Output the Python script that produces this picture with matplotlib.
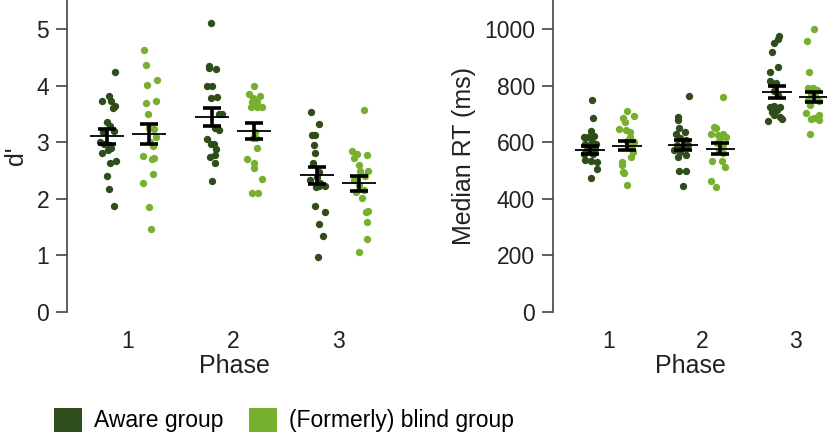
import numpy as np
import matplotlib.pyplot as plt
from matplotlib.patches import Patch

plt.rcParams['font.family'] = ['Liberation Sans', 'DejaVu Sans']

phases = [1, 2, 3]
groups = ['Aware group', '(Formerly) blind group']
colors = ['#2f4d1a', '#77b02f']

# d' per participant (value, horizontal jitter in category units)
dprime_aware = [
    [4.25, 3.82, 3.73, 3.73, 3.65, 3.61, 3.37, 3.29, 3.18, 3.20, 3.01, 2.98, 2.95, 2.90, 2.87, 2.81, 2.64, 2.67, 2.40, 2.17, 1.88],
    [5.12, 4.35, 4.31, 4.30, 4.00, 4.00, 3.79, 3.80, 3.50, 3.50, 3.25, 3.22, 3.06, 2.98, 2.98, 2.89, 2.74, 2.77, 2.63, 2.31],
    [3.53, 3.33, 3.13, 3.14, 2.95, 2.81, 2.64, 2.48, 2.39, 2.34, 2.28, 2.23, 2.23, 2.22, 1.88, 1.77, 1.56, 1.35, 0.97],
]
dprime_aware_jit = [
    [0.08, 0.02, -0.05, 0.04, 0.08, 0.06, 0.00, 0.03, -0.04, 0.07, -0.07, -0.03, 0.02, 0.04, 0.01, -0.05, 0.03, 0.09, 0.00, 0.02, 0.07],
    [-0.01, -0.03, -0.03, 0.04, -0.05, 0.00, -0.01, 0.05, 0.07, 0.09, 0.03, 0.07, -0.05, -0.01, 0.02, 0.04, -0.02, 0.03, 0.03, 0.00],
    [-0.06, 0.02, -0.05, -0.02, -0.03, -0.02, -0.04, 0.02, 0.00, -0.07, 0.03, 0.07, 0.02, -0.01, -0.02, 0.07, 0.02, 0.05, 0.01],
]
dprime_blind = [
    [4.63, 4.37, 4.02, 4.11, 3.69, 3.73, 3.50, 3.26, 3.23, 3.10, 3.01, 2.93, 2.76, 2.73, 2.70, 2.45, 2.28, 1.85, 1.46],
    [4.00, 3.86, 3.83, 3.79, 3.71, 3.72, 3.63, 3.63, 3.63, 3.19, 3.07, 3.07, 2.90, 2.70, 2.63, 2.54, 2.36, 2.10, 2.10],
    [3.58, 2.85, 2.79, 2.73, 2.77, 2.60, 2.50, 2.50, 2.40, 2.34, 2.25, 2.16, 2.12, 2.01, 1.77, 1.79, 1.59, 1.29, 1.07],
]
dprime_blind_jit = [
    [-0.05, -0.03, -0.02, 0.08, -0.03, 0.07, -0.01, 0.00, 0.05, 0.07, 0.01, 0.04, -0.06, 0.05, 0.03, 0.04, -0.06, 0.00, 0.02],
    [0.00, -0.05, 0.06, -0.01, -0.02, 0.03, -0.03, 0.07, 0.03, 0.01, -0.01, 0.02, 0.03, -0.07, 0.00, 0.00, 0.07, -0.02, 0.04],
    [0.04, -0.07, -0.02, -0.05, 0.07, 0.00, 0.01, 0.08, 0.05, -0.05, 0.00, 0.04, -0.03, 0.03, 0.06, 0.08, 0.07, 0.07, 0.00],
]
dprime_mean = [[3.11, 3.45, 2.42], [3.145, 3.20, 2.28]]
dprime_se = [[0.135, 0.155, 0.15], [0.175, 0.14, 0.135]]

# median RT (ms)
rt_aware = [
    [749, 687, 640, 620, 620, 623, 602, 595, 595, 576, 570, 576, 557, 557, 537, 533, 529, 505, 473],
    [765, 690, 679, 651, 637, 631, 614, 608, 590, 592, 584, 566, 572, 549, 555, 498, 498, 445],
    [976, 964, 950, 919, 865, 847, 818, 806, 811, 782, 767, 726, 728, 723, 708, 714, 696, 690, 676, 681],
]
rt_aware_jit = [
    [0.03, 0.04, 0.01, -0.06, -0.02, 0.05, 0.03, -0.05, 0.07, 0.01, -0.04, 0.06, -0.06, 0.04, -0.05, 0.02, 0.08, 0.08, 0.02],
    [0.06, -0.05, -0.05, -0.04, 0.02, -0.08, -0.03, 0.03, -0.07, 0.05, 0.00, -0.03, -0.10, -0.05, 0.03, -0.04, 0.03, 0.00],
    [0.03, 0.01, -0.03, -0.05, 0.02, -0.07, -0.07, -0.05, -0.01, -0.03, 0.02, -0.07, -0.03, 0.04, -0.05, 0.00, -0.03, 0.04, -0.09, 0.06],
]
rt_blind = [
    [711, 694, 685, 672, 646, 643, 637, 620, 600, 604, 590, 578, 565, 549, 531, 519, 496, 491, 449],
    [761, 655, 649, 628, 626, 628, 620, 614, 596, 590, 569, 561, 533, 533, 512, 463, 442],
    [1000, 957, 847, 791, 791, 785, 771, 764, 750, 747, 732, 704, 696, 686, 681, 679, 628],
]
rt_blind_jit = [
    [0.00, 0.07, -0.04, -0.02, -0.08, -0.01, 0.03, 0.03, 0.07, 0.00, 0.01, 0.05, 0.06, 0.04, -0.05, -0.05, -0.04, -0.03, 0.00],
    [0.03, -0.07, -0.05, -0.10, -0.03, 0.03, 0.06, 0.00, -0.04, 0.03, -0.02, 0.03, -0.09, 0.02, 0.05, -0.10, -0.05],
    [0.00, -0.07, -0.05, -0.06, -0.01, 0.03, -0.03, 0.01, -0.06, 0.05, -0.04, -0.09, 0.05, 0.00, -0.03, 0.05, -0.04],
]
rt_mean = [[572, 590, 777], [588, 578, 760]]
rt_se = [[15, 17, 21], [16, 18, 19]]


def draw_panel(ax, vals, jits, means, ses, ylim, yticks, ylabel):
    offs = [-0.2, 0.2]
    for g in range(2):
        for i, p in enumerate(phases):
            x = p + offs[g] + np.array(jits[g][i])
            ax.scatter(x, vals[g][i], s=28, color=colors[g], linewidths=0, zorder=2)
        xm = np.array(phases) + offs[g]
        ax.errorbar(xm, means[g], yerr=ses[g], fmt='none', ecolor='black',
                    elinewidth=2.6, capsize=6.5, capthick=2.6, zorder=3)
        ax.hlines(means[g], xm - 0.16, xm + 0.16, color='black', lw=1.3, zorder=3)
    ax.set_ylim(*ylim)
    ax.set_yticks(yticks)
    ax.set_xticks(phases)
    ax.set_xticklabels([str(p) for p in phases])
    for s in ['top', 'right', 'bottom']:
        ax.spines[s].set_visible(False)
    ax.spines['left'].set_color('#444444')
    ax.spines['left'].set_linewidth(1.2)
    ax.tick_params(axis='y', length=8, width=1.2, color='#444444', labelsize=16.5, pad=5, labelcolor='#222222')
    ax.tick_params(axis='x', length=0, labelsize=16.5, pad=13, labelcolor='#222222')
    ax.set_xlabel('Phase', fontsize=18, color='#222222', labelpad=1)
    ax.set_ylabel(ylabel, fontsize=18, color='#222222', labelpad=6)


fig = plt.figure(figsize=(8.28, 4.33), dpi=100)
ax1 = fig.add_axes([0.081, 0.2794, 0.405, 0.7206])
ax2 = fig.add_axes([0.668, 0.2794, 0.332, 0.7206])

draw_panel(ax1, [dprime_aware, dprime_blind], [dprime_aware_jit, dprime_blind_jit],
           dprime_mean, dprime_se, (0, 5.52), [0, 1, 2, 3, 4, 5], "d'")
ax1.set_xlim(0.42, 3.61)

draw_panel(ax2, [rt_aware, rt_blind], [rt_aware_jit, rt_blind_jit],
           rt_mean, rt_se, (0, 1103), [0, 200, 400, 600, 800, 1000], 'Median RT (ms)')
ax2.set_xlim(0.41, 3.35)

handles = [Patch(facecolor=c, edgecolor='none') for c in colors]
fig.legend(handles, groups, loc='center left', bbox_to_anchor=(0.065, 0.03),
           ncol=2, frameon=False, fontsize=16.5, handlelength=1.25, handleheight=1.25,
           handletextpad=0.5, columnspacing=1.1, borderpad=0, borderaxespad=0)

fig.savefig('out.png', dpi=100)
